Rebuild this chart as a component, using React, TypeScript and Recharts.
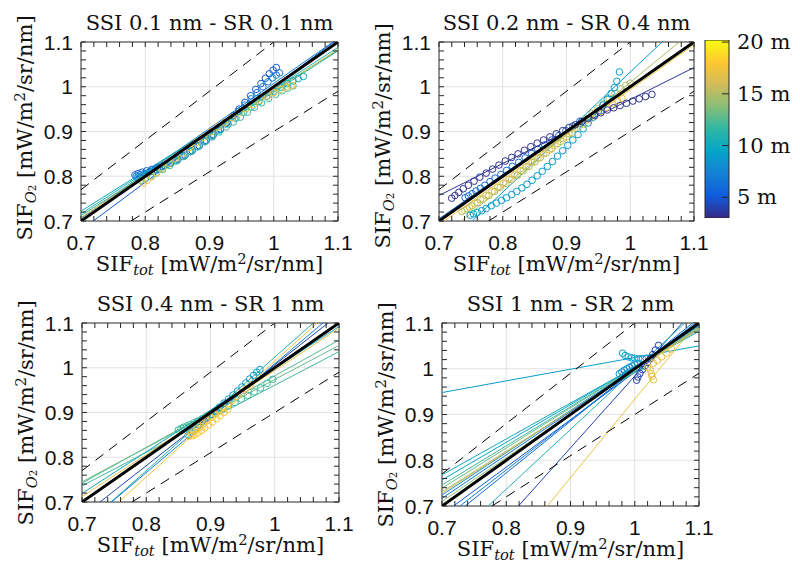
import React from "react";
import { ScatterChart, Scatter, XAxis, YAxis, ReferenceLine, BarChart, Bar } from "recharts";

// SIF axes [mW/m2/sr/nm]
const axisDomain = [0.7, 1.1];
const minorTicks = [0.7, 0.72, 0.74, 0.76, 0.78, 0.8, 0.82, 0.84, 0.86, 0.88, 0.9, 0.92, 0.94, 0.96, 0.98, 1, 1.02, 1.04, 1.06, 1.08, 1.1];
const gridTicks = [0.8, 0.9, 1];

// 1:1 line and the +/-10 % band
const oneToOne = [[0.7, 0.7], [1.1, 1.1]];
const upper10 = [[0.7, 0.77], [1.0, 1.1]];
const lower10 = [[0.7778, 0.7], [1.1, 0.99]];

// colour bar: sensor height [m]
const heightRange = [3, 20.2];
const heightTicks = [5, 10, 15, 20];

// fitted lines per height: [height, x0, y0, x1, y1]
const fitsA = [
  [5, 0.719, 0.7, 1.1, 1.107],
  [7, 0.7, 0.706, 1.092, 1.1],
  [10, 0.7, 0.722, 1.1, 1.082],
  [11, 0.7, 0.716, 1.1, 1.088],
  [12, 0.7, 0.712, 1.1, 1.08],
  [17, 0.7, 0.708, 1.1, 1.084],
];
const fitsB = [
  [3.5, 0.7, 0.757, 1.1, 1.043],
  [9, 0.752, 0.7, 1.05, 1.1],
  [15, 0.735, 0.7, 1.077, 1.1],
  [6, 0.7, 0.705, 1.1, 1.1],
  [12, 0.7, 0.703, 1.1, 1.097],
  [17.5, 0.708, 0.7, 1.1, 1.094],
];
const fitsC = [
  [12.5, 0.7, 0.742, 1.1, 1.062],
  [12, 0.7, 0.736, 1.1, 1.036],
  [13, 0.7, 0.745, 1.1, 1.05],
  [10, 0.7, 0.719, 1.1, 1.092],
  [17, 0.7, 0.712, 1.1, 1.088],
  [11, 0.745, 0.7, 1.06, 1.1],
  [17.5, 0.757, 0.7, 1.066, 1.1],
  [4, 0.728, 0.7, 1.083, 1.1],
  [7, 0.746, 0.7, 1.075, 1.1],
];
const fitsD = [
  [9, 0.7, 0.948, 1.1, 1.05],
  [4, 0.819, 0.7, 1.074, 1.1],
  [17, 0.864, 0.7, 1.097, 1.1],
  [11, 0.772, 0.7, 1.078, 1.1],
  [6, 0.736, 0.7, 1.09, 1.1],
  [5, 0.718, 0.7, 1.1, 1.096],
  [7, 0.728, 0.7, 1.094, 1.1],
  [10, 0.7, 0.768, 1.1, 1.082],
  [9.5, 0.7, 0.757, 1.1, 1.086],
  [12, 0.7, 0.746, 1.1, 1.088],
  [13, 0.7, 0.739, 1.1, 1.09],
  [15, 0.7, 0.731, 1.1, 1.086],
  [8, 0.7, 0.724, 1.1, 1.094],
  [16, 0.7, 0.728, 1.1, 1.088],
  [6.5, 0.7, 0.717, 1.1, 1.095],
  [14, 0.7, 0.71, 1.1, 1.092],
];

// SIF_tot / SIF_O2 pairs, SSI 0.1 nm - SR 0.1 nm
const a05 = [[0.784, 0.803], [0.789, 0.806], [0.795, 0.809], [0.802, 0.812], [0.81, 0.815], [0.819, 0.819], [0.829, 0.824], [0.84, 0.83], [0.851, 0.838], [0.862, 0.847], [0.873, 0.857], [0.884, 0.868], [0.895, 0.88], [0.906, 0.893], [0.917, 0.906], [0.927, 0.92], [0.937, 0.935], [0.946, 0.95], [0.955, 0.965], [0.964, 0.98], [0.972, 0.994], [0.98, 1.007], [0.987, 1.019], [0.993, 1.029], [0.999, 1.037], [1.004, 1.043]];
const a07 = [[0.786, 0.8], [0.792, 0.803], [0.799, 0.806], [0.807, 0.81], [0.816, 0.815], [0.826, 0.821], [0.837, 0.828], [0.848, 0.836], [0.859, 0.845], [0.87, 0.855], [0.881, 0.866], [0.892, 0.878], [0.903, 0.89], [0.914, 0.903], [0.925, 0.917], [0.935, 0.931], [0.945, 0.945], [0.955, 0.959], [0.965, 0.973], [0.974, 0.987], [0.983, 1.0], [0.991, 1.011], [0.998, 1.02], [1.004, 1.026], [1.009, 1.031]];
const a10 = [[0.788, 0.797], [0.795, 0.8], [0.803, 0.805], [0.812, 0.811], [0.822, 0.818], [0.833, 0.826], [0.845, 0.835], [0.857, 0.845], [0.869, 0.856], [0.881, 0.867], [0.893, 0.879], [0.905, 0.891], [0.917, 0.904], [0.929, 0.917], [0.941, 0.93], [0.953, 0.943], [0.965, 0.955], [0.977, 0.967], [0.989, 0.979], [1.0, 0.99], [1.011, 0.999], [1.021, 1.007], [1.03, 1.013], [1.038, 1.018], [1.046, 1.023]];
const a13 = [[0.793, 0.791], [0.8, 0.795], [0.808, 0.8], [0.817, 0.807], [0.827, 0.815], [0.838, 0.824], [0.849, 0.834], [0.86, 0.844], [0.871, 0.855], [0.882, 0.866], [0.893, 0.877], [0.904, 0.888], [0.915, 0.899], [0.926, 0.91], [0.937, 0.921], [0.948, 0.932], [0.959, 0.943], [0.97, 0.954], [0.981, 0.964], [0.992, 0.974], [1.003, 0.983], [1.013, 0.991], [1.022, 0.997], [1.03, 1.002]];
const a17 = [[0.797, 0.785], [0.803, 0.791], [0.81, 0.799], [0.818, 0.808], [0.827, 0.818], [0.837, 0.829], [0.847, 0.84], [0.858, 0.852], [0.869, 0.864], [0.88, 0.876], [0.891, 0.887], [0.902, 0.899], [0.913, 0.91], [0.924, 0.92], [0.935, 0.931], [0.946, 0.941], [0.957, 0.951], [0.968, 0.96], [0.979, 0.97], [0.99, 0.979], [1.0, 0.987], [1.01, 0.994], [1.019, 0.999], [1.028, 1.003]];

// SSI 0.2 nm - SR 0.4 nm
const b03 = [[0.72, 0.751], [0.725, 0.757], [0.731, 0.764], [0.738, 0.772], [0.746, 0.78], [0.755, 0.789], [0.764, 0.798], [0.774, 0.807], [0.784, 0.816], [0.794, 0.825], [0.804, 0.834], [0.814, 0.842], [0.824, 0.85], [0.834, 0.858], [0.844, 0.866], [0.854, 0.874], [0.864, 0.881], [0.874, 0.888], [0.884, 0.895], [0.894, 0.902], [0.904, 0.909], [0.914, 0.915], [0.924, 0.922], [0.934, 0.929], [0.944, 0.936], [0.954, 0.942], [0.964, 0.948], [0.974, 0.953], [0.984, 0.958], [0.994, 0.963], [1.004, 0.968], [1.014, 0.973], [1.024, 0.978], [1.034, 0.983]];
const b06 = [[0.741, 0.752], [0.746, 0.756], [0.752, 0.761], [0.758, 0.767], [0.765, 0.773], [0.772, 0.78], [0.78, 0.788], [0.788, 0.796], [0.797, 0.804], [0.806, 0.813], [0.815, 0.822], [0.825, 0.831], [0.835, 0.841], [0.845, 0.851], [0.855, 0.86], [0.866, 0.87], [0.877, 0.881], [0.888, 0.891], [0.899, 0.902], [0.91, 0.912], [0.921, 0.923]];
const b09 = [[0.749, 0.713], [0.754, 0.716], [0.76, 0.719], [0.767, 0.723], [0.774, 0.728], [0.782, 0.734], [0.79, 0.74], [0.798, 0.746], [0.806, 0.752], [0.814, 0.759], [0.822, 0.766], [0.83, 0.774], [0.838, 0.782], [0.846, 0.791], [0.854, 0.801], [0.862, 0.811], [0.87, 0.822], [0.878, 0.833], [0.886, 0.845], [0.894, 0.857], [0.902, 0.869], [0.91, 0.881], [0.918, 0.893], [0.926, 0.906], [0.934, 0.919], [0.942, 0.932], [0.95, 0.946], [0.957, 0.959], [0.964, 0.972], [0.97, 0.985], [0.975, 0.998], [0.979, 1.012], [0.983, 1.033]];
const b15 = [[0.736, 0.721], [0.744, 0.727], [0.752, 0.734], [0.76, 0.741], [0.769, 0.749], [0.778, 0.757], [0.787, 0.766], [0.796, 0.775], [0.805, 0.784], [0.814, 0.793], [0.823, 0.802], [0.832, 0.812], [0.841, 0.822], [0.85, 0.832], [0.859, 0.842], [0.868, 0.852], [0.877, 0.862], [0.886, 0.873], [0.895, 0.884], [0.904, 0.895], [0.913, 0.906], [0.922, 0.917], [0.931, 0.928], [0.94, 0.94], [0.949, 0.951], [0.958, 0.962], [0.967, 0.974], [0.976, 0.985], [0.985, 0.996], [0.993, 1.003], [1.0, 1.008]];
const b17 = [[0.74, 0.724], [0.748, 0.731], [0.756, 0.739], [0.765, 0.748], [0.774, 0.757], [0.783, 0.766], [0.792, 0.775], [0.801, 0.784], [0.81, 0.793], [0.819, 0.803], [0.828, 0.812], [0.837, 0.821], [0.846, 0.831], [0.855, 0.84], [0.864, 0.85], [0.873, 0.859], [0.882, 0.869], [0.891, 0.878], [0.9, 0.888], [0.909, 0.897], [0.918, 0.907], [0.927, 0.916], [0.936, 0.926], [0.945, 0.935], [0.954, 0.945], [0.963, 0.954], [0.972, 0.963], [0.98, 0.969], [0.987, 0.974]];

// SSI 0.4 nm - SR 1 nm
const c09 = [[0.866, 0.85], [0.871, 0.857], [0.876, 0.864], [0.882, 0.871], [0.888, 0.879], [0.894, 0.887], [0.9, 0.895], [0.907, 0.903], [0.914, 0.912], [0.921, 0.921], [0.928, 0.93], [0.935, 0.939], [0.942, 0.948], [0.949, 0.957], [0.955, 0.966], [0.961, 0.975], [0.967, 0.983], [0.972, 0.99], [0.977, 0.996]];
const c12 = [[0.85, 0.861], [0.854, 0.864], [0.858, 0.867], [0.863, 0.87], [0.868, 0.873], [0.874, 0.877], [0.88, 0.881], [0.887, 0.886], [0.894, 0.891], [0.902, 0.896], [0.91, 0.902], [0.919, 0.908], [0.928, 0.915], [0.938, 0.922], [0.948, 0.93], [0.958, 0.938], [0.968, 0.946], [0.978, 0.955], [0.988, 0.965], [0.997, 0.974]];
const c17 = [[0.866, 0.847], [0.87, 0.852], [0.874, 0.857], [0.879, 0.863], [0.884, 0.869], [0.889, 0.875], [0.895, 0.882], [0.901, 0.889], [0.907, 0.896], [0.913, 0.903], [0.92, 0.911], [0.927, 0.919], [0.934, 0.927], [0.941, 0.936], [0.948, 0.944], [0.955, 0.953], [0.962, 0.961]];
const c18 = [[0.872, 0.848], [0.876, 0.851], [0.881, 0.855], [0.886, 0.86], [0.891, 0.866], [0.897, 0.872], [0.903, 0.879], [0.909, 0.886], [0.915, 0.893], [0.921, 0.9], [0.927, 0.907]];

// SSI 1 nm - SR 2 nm
const d04 = [[1.003, 0.975], [1.005, 0.982], [1.008, 0.99], [1.012, 0.998], [1.016, 1.006], [1.02, 1.014], [1.024, 1.022], [1.028, 1.031], [1.032, 1.041], [1.037, 1.051]];
const d08 = [[0.976, 0.989], [0.98, 0.993], [0.984, 0.997], [0.988, 1.0], [0.992, 1.003], [0.996, 1.006], [1.0, 1.009], [1.004, 1.012]];
const d09 = [[0.981, 1.034], [0.985, 1.029], [0.99, 1.026], [0.995, 1.024], [1.0, 1.023], [1.006, 1.022], [1.012, 1.022], [1.018, 1.023]];
const d12 = [[0.982, 0.985], [0.987, 0.989], [0.992, 0.993], [0.997, 0.997], [1.002, 1.0], [1.007, 1.003], [1.012, 1.006]];
const d17 = [[1.02, 1.003], [1.024, 0.997], [1.026, 0.989], [1.027, 0.983], [1.029, 0.976], [1.029, 1.012], [1.035, 1.018], [1.042, 1.026], [1.049, 1.034], [1.057, 1.043]];

const runsA = [{ h: 5, pts: a05 }, { h: 7, pts: a07 }, { h: 10, pts: a10 }, { h: 12, pts: a13 }, { h: 17, pts: a17 }];
const runsB = [{ h: 6, pts: b06 }, { h: 17, pts: b17 }, { h: 15, pts: b15 }, { h: 9, pts: b09 }, { h: 3.3, pts: b03 }];
const runsC = [{ h: 12, pts: c12 }, { h: 9, pts: c09 }, { h: 17, pts: c17 }, { h: 18, pts: c18 }];
const runsD = [{ h: 12, pts: d12 }, { h: 8, pts: d08 }, { h: 9, pts: d09 }, { h: 4, pts: d04 }, { h: 17, pts: d17 }];

// parula colormap
const parulaStops = ["#352a87", "#0f5cdd", "#1481d6", "#06a4ca", "#2eb7a4", "#87bf77", "#d1bb59", "#fec832", "#f9fb0e"];

function parula(h: number) {
  const t = Math.min(1, Math.max(0, (h - heightRange[0]) / (heightRange[1] - heightRange[0])));
  const pos = t * (parulaStops.length - 1);
  const i = Math.min(parulaStops.length - 2, Math.floor(pos));
  const f = pos - i;
  const a = parseInt(parulaStops[i].slice(1), 16);
  const b = parseInt(parulaStops[i + 1].slice(1), 16);
  const mix = (s: number) => Math.round(((a >> s) & 255) * (1 - f) + ((b >> s) & 255) * f);
  return `rgb(${mix(16)},${mix(8)},${mix(0)})`;
}

const SANS = "'Liberation Sans', Arial, sans-serif";
const SERIF = "'DejaVu Serif', serif";
const INK = "#262626";
const TICK = 5;

const isMajor = (v: number) => Math.abs(v * 10 - Math.round(v * 10)) < 1e-6;
const fmt = (v: number) => String(+v.toFixed(2));
const toXY = (pts: number[][]) => pts.map(([x, y]) => ({ x, y }));

function BottomTick(props: any) {
  const { x, y, payload } = props;
  return (
    <g>
      <line x1={x} y1={y} x2={x} y2={y - TICK} stroke={INK} />
      {isMajor(payload.value) && (
        <text x={x} y={y + 29} textAnchor="middle" fontFamily={SANS} fontSize={21} fill="#111">
          {fmt(payload.value)}
        </text>
      )}
    </g>
  );
}

function TopTick(props: any) {
  const { x, y } = props;
  return <line x1={x} y1={y} x2={x} y2={y + TICK} stroke={INK} />;
}

function LeftTick(props: any) {
  const { x, y, payload } = props;
  return (
    <g>
      <line x1={x} y1={y} x2={x + TICK} y2={y} stroke={INK} />
      {isMajor(payload.value) && (
        <text x={x - 8} y={y + 7.5} textAnchor="end" fontFamily={SANS} fontSize={21} fill="#111">
          {fmt(payload.value)}
        </text>
      )}
    </g>
  );
}

function RightTick(props: any) {
  const { x, y } = props;
  return <line x1={x} y1={y} x2={x - TICK} y2={y} stroke={INK} />;
}

const noDot = () => <g />;

const ringShape = (color: string) => (p: any) =>
  <circle cx={p.cx} cy={p.cy} r={3.3} fill="none" stroke={color} strokeWidth={1} />;

type Frame = { x: number; y: number; w: number; h: number };
type Run = { h: number; pts: number[][] };

// outer space round each plot box; the 1px axes sit inside it
const M = { top: 42, right: 26, bottom: 64, left: 84 };
const chartMargin = { top: M.top - 1, right: M.right - 1, bottom: M.bottom - 1, left: M.left - 1 };

const sub: React.CSSProperties = { fontSize: "70%", lineHeight: 0, verticalAlign: "-0.3em" };
const sup: React.CSSProperties = { fontSize: "70%", lineHeight: 0, verticalAlign: "0.45em" };

const labelFont: React.CSSProperties = {
  fontFamily: SERIF, fontSize: 21, color: "#111", whiteSpace: "nowrap", textAlign: "center",
};

const Units = () => (
  <>
    {" "}[mW/m<span style={sup}>2</span>/sr/nm]
  </>
);

function Panel({ frame, title, fits, runs, yShift }: { frame: Frame; title: string; fits: number[][]; runs: Run[]; yShift: number }) {
  const { x, y, w, h } = frame;
  const cx = x + w / 2;
  const axisCommon = {
    type: "number" as const,
    domain: axisDomain,
    allowDataOverflow: true,
    ticks: minorTicks,
    interval: 0 as const,
    tickSize: 0,
    tickMargin: 0,
    tickLine: false,
    axisLine: { stroke: INK },
  };
  return (
    <>
      <div style={{ position: "absolute", left: x - M.left, top: y - M.top }}>
        <ScatterChart width={w + M.left + M.right} height={h + M.top + M.bottom} margin={chartMargin}>
          <XAxis {...axisCommon} dataKey="x" height={1} tick={<BottomTick />} />
          <XAxis {...axisCommon} xAxisId="top" orientation="top" dataKey="x" height={1} tick={<TopTick />} />
          <YAxis {...axisCommon} dataKey="y" width={1} tick={<LeftTick />} />
          <YAxis {...axisCommon} yAxisId="right" orientation="right" dataKey="y" width={1} tick={<RightTick />} />
          {gridTicks.map((v) => (
            <ReferenceLine key={"gx" + v} x={v} stroke="#e2e2e2" strokeWidth={1} />
          ))}
          {gridTicks.map((v) => (
            <ReferenceLine key={"gy" + v} y={v} stroke="#e2e2e2" strokeWidth={1} />
          ))}
          {fits.map((f, i) => (
            <Scatter
              key={"fit" + i}
              data={toXY([[f[1], f[2]], [f[3], f[4]]])}
              line={{ stroke: parula(f[0]), strokeWidth: 1 }}
              shape={noDot}
              isAnimationActive={false}
            />
          ))}
          {runs.map((r, i) => (
            <Scatter key={"run" + i} data={toXY(r.pts)} shape={ringShape(parula(r.h))} isAnimationActive={false} />
          ))}
          <Scatter data={toXY(upper10)} line={{ stroke: "#000", strokeWidth: 1, strokeDasharray: "10 7" }} shape={noDot} isAnimationActive={false} />
          <Scatter data={toXY(lower10)} line={{ stroke: "#000", strokeWidth: 1, strokeDasharray: "10 7" }} shape={noDot} isAnimationActive={false} />
          <Scatter data={toXY(oneToOne)} line={{ stroke: "#000", strokeWidth: 3 }} shape={noDot} isAnimationActive={false} />
        </ScatterChart>
      </div>
      <div style={{ ...labelFont, position: "absolute", left: cx - 200, width: 400, top: y - 29, lineHeight: "20px" }}>
        {title}
      </div>
      <div style={{ ...labelFont, position: "absolute", left: cx - 200, width: 400, top: y + h + 31, lineHeight: "24px" }}>
        SIF<span style={sub}><i>tot</i></span>
        <Units />
      </div>
      <div
        style={{
          ...labelFont, position: "absolute", left: x - 56 - 150, top: y + h / 2 + yShift - 12, width: 300, height: 24,
          lineHeight: "24px", transform: "rotate(-90deg)",
        }}
      >
        SIF<span style={sub}><i>O</i><span style={{ fontSize: "70%" }}>2</span></span>
        <Units />
      </div>
    </>
  );
}

function BarTick(props: any) {
  const { x, y, payload } = props;
  return (
    <g>
      <line x1={x} y1={y} x2={x - 7} y2={y} stroke={INK} />
      <text x={x + 8} y={y} dominantBaseline="central" fontFamily={SERIF} fontSize={21} fill="#111">
        {`${payload.value} m`}
      </text>
    </g>
  );
}

const barData = [{ name: "height", span: heightRange }];

function ColorBar() {
  return (
    <div style={{ position: "absolute", left: 695, top: 30 }}>
      <BarChart width={105} height={200} margin={{ top: 10, right: 70, bottom: 12, left: 10 }} data={barData} barCategoryGap={0}>
        <defs>
          <linearGradient id="parulaGrad" x1="0" y1="1" x2="0" y2="0">
            {parulaStops.map((c, i) => (
              <stop key={c} offset={i / (parulaStops.length - 1)} stopColor={c} />
            ))}
          </linearGradient>
        </defs>
        <XAxis dataKey="name" hide />
        <YAxis
          orientation="right"
          type="number"
          domain={heightRange}
          allowDataOverflow
          ticks={heightTicks}
          interval={0}
          width={1}
          tickSize={0}
          tickMargin={0}
          tickLine={false}
          axisLine={false}
          tick={<BarTick />}
        />
        <Bar dataKey="span" fill="url(#parulaGrad)" stroke={INK} strokeWidth={1} isAnimationActive={false} />
      </BarChart>
    </div>
  );
}

export default function App() {
  return (
    <div style={{ position: "absolute", left: 0, top: 0, width: 800, height: 578, background: "#fff", overflow: "hidden" }}>
      <Panel frame={{ x: 81, y: 42, w: 257, h: 179 }} title="SSI 0.1 nm - SR 0.1 nm" fits={fitsA} runs={runsA} yShift={-4} />
      <Panel frame={{ x: 439, y: 42, w: 255, h: 179 }} title="SSI 0.2 nm - SR 0.4 nm" fits={fitsB} runs={runsB} yShift={4} />
      <Panel frame={{ x: 82, y: 323, w: 257, h: 179 }} title="SSI 0.4 nm - SR 1 nm" fits={fitsC} runs={runsC} yShift={0} />
      <Panel frame={{ x: 442, y: 323, w: 257, h: 183 }} title="SSI 1 nm - SR 2 nm" fits={fitsD} runs={runsD} yShift={0} />
      <ColorBar />
    </div>
  );
}
